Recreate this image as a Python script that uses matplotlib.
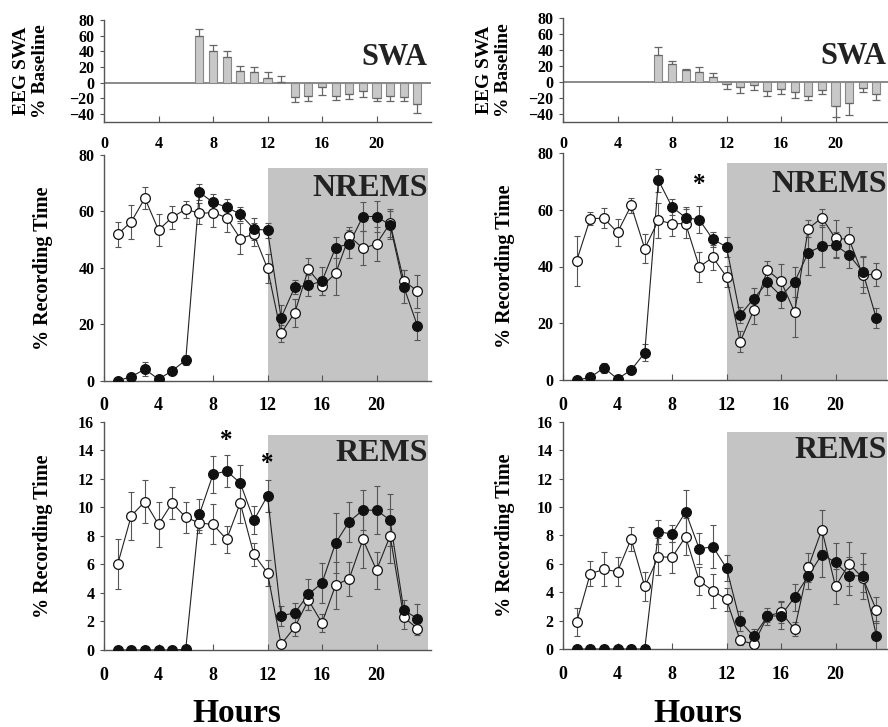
import matplotlib
matplotlib.use("Agg")
import matplotlib.pyplot as plt
from matplotlib.patches import Rectangle
import numpy as np

plt.rcParams['font.family'] = ['Liberation Serif', 'DejaVu Serif']
plt.rcParams['font.weight'] = 'bold'

hours = list(range(1, 24))
swa_hours = list(range(7, 24))

# ---- SWA (% baseline) ----
swa_left = [60, 41, 33, 15, 13.3, 6, 1, -18, -17, -5, -17, -14, -10, -19, -16.7, -18.5, -26.7]
swa_left_err = [8, 7.6, 8, 6.5, 7.3, 8, 7, 6, 6, 11, 4.5, 6.6, 8, 4, 6.3, 4.5, 11.3]
swa_right = [34.5, 22.5, 15, 12.3, 6, -3, -6.8, -4, -11.5, -9.4, -12.8, -17.4, -10.6, -29.8, -26.8, -8, -15.7]
swa_right_err = [9.3, 3.9, 2, 6, 5.5, 6, 7.2, 6, 5.5, 5.6, 7.2, 5.1, 5.1, 14.2, 14.9, 4.3, 6.8]

# ---- NREMS (% recording time) ----
nrems_left_open = [51.9, 56.3, 64.7, 53.4, 57.9, 60.8, 59.3, 59.6, 57.8, 50.4, 51.9, 39.8, 16.8, 24.1, 39.5, 33.6, 38.0, 51.3, 46.9, 48.5, 55.8, 35.5, 31.7]
nrems_left_open_err = [4.5, 6.0, 4.0, 5.6, 4.1, 3.0, 3.7, 5.0, 5.0, 5.5, 4.0, 5.0, 3.0, 5.0, 3.9, 3.3, 7.7, 3.3, 6.0, 6.1, 5.0, 3.7, 5.8]
nrems_left_fill = [0, 1.4, 4.1, 0.5, 3.5, 7.3, 66.8, 63.2, 61.5, 59.0, 53.8, 53.3, 22.3, 33.2, 33.8, 35.3, 47.2, 48.5, 58.2, 58.2, 55.2, 33.3, 19.5]
nrems_left_fill_err = [0.3, 0.8, 2.4, 0.5, 1.0, 1.8, 2.9, 2.8, 2.8, 2.5, 3.8, 2.7, 4.5, 2.5, 3.7, 5.1, 3.6, 4.9, 5.3, 5.6, 5.1, 5.9, 5.0]

nrems_right_open = [42.0, 56.9, 57.0, 52.0, 61.5, 46.3, 56.3, 55.1, 55.1, 39.9, 43.2, 36.4, 13.5, 24.6, 38.7, 34.8, 23.9, 53.3, 57.2, 49.9, 49.6, 37.0, 37.3]
nrems_right_open_err = [8.7, 2.4, 3.6, 4.9, 2.7, 5.1, 6.1, 4.4, 5.0, 5.3, 4.3, 3.7, 3.7, 4.7, 3.3, 6.2, 8.9, 3.0, 3.2, 6.4, 4.4, 6.4, 4.1]
nrems_right_fill = [0, 0.9, 4.3, 0.4, 3.5, 9.6, 70.4, 61.0, 57.2, 56.5, 49.6, 46.9, 22.9, 28.7, 34.4, 29.6, 34.6, 44.9, 47.2, 47.5, 44.1, 38.1, 21.7]
nrems_right_fill_err = [0.3, 0.6, 1.8, 0.5, 1.5, 3.0, 4.1, 2.9, 3.8, 4.7, 2.6, 3.5, 2.9, 3.6, 4.3, 4.4, 5.3, 7.9, 7.3, 4.5, 4.6, 5.5, 3.5]

# ---- REMS (% recording time) ----
rems_left_open = [6.0, 9.4, 10.4, 8.8, 10.3, 9.3, 8.9, 8.8, 7.75, 10.3, 6.7, 5.4, 0.4, 1.6, 3.5, 1.9, 4.55, 5.0, 7.75, 5.6, 8.0, 2.3, 1.5]
rems_left_open_err = [1.75, 1.7, 1.5, 1.55, 1.1, 1.1, 0.7, 1.4, 0.95, 1.4, 0.8, 0.9, 0.2, 0.65, 0.7, 0.65, 1.65, 1.2, 2.0, 1.3, 1.9, 0.8, 0.45]
rems_left_fill = [0, 0, 0, 0, 0, 0.05, 9.5, 12.3, 12.55, 11.7, 9.1, 10.8, 2.4, 2.6, 3.9, 4.7, 7.5, 9.0, 9.8, 9.8, 9.1, 2.8, 2.2]
rems_left_fill_err = [0, 0, 0, 0, 0, 0, 1.1, 1.3, 1.15, 1.3, 1.0, 1.1, 0.7, 0.7, 1.1, 1.4, 2.1, 1.4, 1.4, 1.7, 1.8, 0.7, 1.0]

rems_right_open = [1.9, 5.3, 5.6, 5.45, 7.75, 4.4, 6.5, 6.45, 7.9, 4.8, 4.1, 3.5, 0.6, 0.35, 2.3, 2.6, 1.4, 5.75, 8.4, 4.4, 6.0, 5.0, 2.75]
rems_right_open_err = [1.0, 0.9, 1.2, 1.05, 0.85, 1.0, 1.3, 1.1, 1.3, 1.0, 1.2, 0.8, 0.3, 0.2, 0.4, 0.75, 0.5, 1.0, 1.4, 1.2, 1.55, 1.0, 0.9]
rems_right_fill = [0, 0, 0, 0, 0, 0, 8.25, 8.1, 9.65, 7.05, 7.2, 5.7, 1.95, 0.9, 2.3, 2.35, 3.65, 5.15, 6.65, 6.1, 5.15, 5.15, 0.95]
rems_right_fill_err = [0, 0, 0, 0, 0, 0, 0.85, 0.6, 1.55, 1.1, 1.5, 0.9, 0.7, 0.5, 0.6, 0.95, 0.95, 0.95, 1.6, 1.35, 1.35, 1.6, 1.0]

xticks = [0, 4, 8, 12, 16, 20]
dark_start = 12

fig = plt.figure(figsize=(8.88, 7.27), dpi=100)
W, H = 888.0, 727.0

def rect(x0, x1, ytop, ybot):
    return [x0 / W, 1 - ybot / H, (x1 - x0) / W, (ybot - ytop) / H]

cols = [(104, 431), (563, 890)]
SPC = '#555555'

def style(ax, xfs):
    for s in ['top', 'right']:
        ax.spines[s].set_visible(False)
    for s in ['left', 'bottom']:
        ax.spines[s].set_color(SPC)
        ax.spines[s].set_linewidth(1.0)
    ax.set_xlim(0, 24)
    ax.set_xticks(xticks)
    ax.tick_params(axis='x', direction='in', length=4, pad=12, labelsize=xfs, color=SPC)
    ax.tick_params(axis='y', direction='out', length=3, pad=4, labelsize=11.5, color=SPC)
    for lab in ax.get_xticklabels() + ax.get_yticklabels():
        lab.set_fontweight('bold')

def swa_panel(ax, vals, errs, lblx):
    vals = np.array(vals); errs = np.array(errs)
    ax.axhline(0, color='#777777', lw=1.2, zorder=1)
    ax.bar(swa_hours, vals, width=0.6, color='#c8c8c8', edgecolor='#888888', lw=0.8, zorder=2)
    up = np.where(vals >= 0, errs, 0)
    dn = np.where(vals < 0, errs, 0)
    ax.errorbar(swa_hours, vals, yerr=[dn, up], fmt='none', ecolor='#666666', elinewidth=0.9, capsize=3, capthick=0.9, zorder=3)
    ax.set_ylim(-50, 80)
    ax.set_yticks([-40, -20, 0, 20, 40, 60, 80])
    style(ax, 11.5)
    ax.tick_params(axis='x', pad=10)
    ax.text(23.7, 32.5, 'SWA', ha='right', va='center', fontsize=22, fontweight='bold', color='#222222')
    ax.set_ylabel('EEG SWA\n% Baseline', fontsize=14, fontweight='bold', linespacing=1.2)
    ax.yaxis.label.set_va('center')
    ax.yaxis.set_label_coords(lblx, 0.5)

def line_panel(ax, o, oe, f, fe, ymax, shade_top, ylabel_x, title, title_y, yticks):
    ax.add_patch(Rectangle((dark_start, 0), 23.8 - dark_start, shade_top, facecolor='#c4c4c4', edgecolor='none', zorder=0))
    ax.errorbar(hours, f, yerr=fe, fmt='none', ecolor='#555555', elinewidth=0.8, capsize=2.5, capthick=0.8, zorder=2)
    ax.errorbar(hours, o, yerr=oe, fmt='none', ecolor='#555555', elinewidth=0.8, capsize=2.5, capthick=0.8, zorder=2)
    ax.plot(hours, f, '-', color='#222222', lw=0.8, zorder=3)
    ax.plot(hours, o, '-', color='#222222', lw=0.8, zorder=3)
    ax.plot(hours, o, 'o', ms=7, mfc='white', mec='#111111', mew=0.9, zorder=4)
    ax.plot(hours, f, 'o', ms=7, mfc='#111111', mec='#111111', mew=0.9, zorder=5)
    ax.set_ylim(0, ymax)
    ax.set_yticks(yticks)
    style(ax, 13)
    ax.text(23.75, title_y, title, ha='right', va='center', fontsize=23, fontweight='bold', color='#222222', zorder=6)
    ax.set_ylabel('% Recording Time', fontsize=14.5, fontweight='bold')
    ax.yaxis.label.set_va('center')
    ax.yaxis.set_label_coords(ylabel_x, 0.5)
    return ax

# Left column
x0, x1 = cols[0]
ax = fig.add_axes(rect(x0, x1, 20, 122))
swa_panel(ax, swa_left, swa_left_err, (31 - x0) / 327.0)
ax = fig.add_axes(rect(x0, x1, 155, 380.7))
line_panel(ax, nrems_left_open, nrems_left_open_err, nrems_left_fill, nrems_left_fill_err,
           80, 75.3, (43 - x0) / 327.0, 'NREMS', 68, [0, 20, 40, 60, 80])
ax = fig.add_axes(rect(x0, x1, 421.7, 650))
line_panel(ax, rems_left_open, rems_left_open_err, rems_left_fill, rems_left_fill_err,
           16, 15.05, (43 - x0) / 327.0, 'REMS', 13.8, list(range(0, 17, 2)))
ax.text(9, 14.7, '*', ha='center', va='center', fontsize=18, fontweight='bold')
ax.text(12, 13.1, '*', ha='center', va='center', fontsize=18, fontweight='bold')

# Right column
x0, x1 = cols[1]
ax = fig.add_axes(rect(x0, x1, 18.5, 121.7))
swa_panel(ax, swa_right, swa_right_err, (494 - x0) / 327.0)
ax = fig.add_axes(rect(x0, x1, 153, 380))
line_panel(ax, nrems_right_open, nrems_right_open_err, nrems_right_fill, nrems_right_fill_err,
           80, 76.5, (505 - x0) / 327.0, 'NREMS', 69, [0, 20, 40, 60, 80])
ax.text(10, 69, '*', ha='center', va='center', fontsize=18, fontweight='bold')
ax = fig.add_axes(rect(x0, x1, 421.7, 649))
line_panel(ax, rems_right_open, rems_right_open_err, rems_right_fill, rems_right_fill_err,
           16, 15.3, (505 - x0) / 327.0, 'REMS', 14.0, list(range(0, 17, 2)))

fig.text(237 / W, 1 - 713 / H, 'Hours', ha='center', va='center', fontsize=24, fontweight='bold')
fig.text(698 / W, 1 - 713 / H, 'Hours', ha='center', va='center', fontsize=24, fontweight='bold')

fig.savefig('out.png', dpi=100)
